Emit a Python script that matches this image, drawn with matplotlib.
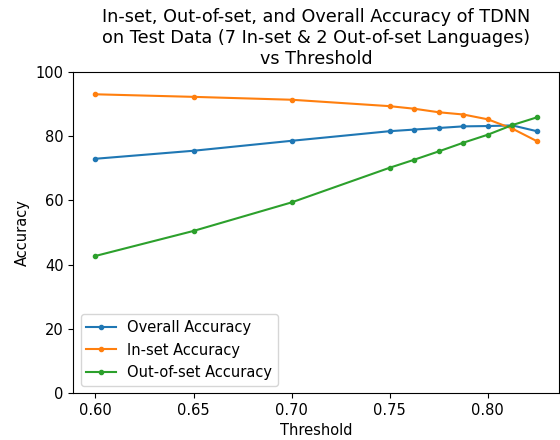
import numpy as np
import matplotlib.pyplot as plt

# ─── Data ─────────────────────────────────────────────────────────────────────
thresholds = [0.60, 0.65, 0.70, 0.75, 0.7625, 0.775, 0.7875, 0.80, 0.8125, 0.825]
overall_acc = [73.0, 75.5, 78.6, 81.6, 82.1, 82.6, 83.1, 83.2, 83.4, 81.6]
inset_acc = [93.1, 92.3, 91.4, 89.4, 88.6, 87.5, 86.8, 85.3, 82.4, 78.5]
outset_acc = [42.7, 50.5, 59.4, 70.2, 72.7, 75.3, 78.0, 80.5, 83.5, 85.9]

plt.rcParams['font.size'] = 10.5

fig = plt.figure(figsize=(5.6, 4.4), dpi=100)
ax = fig.add_axes([0.131, 0.107, 0.867, 0.729])

ax.plot(thresholds, overall_acc, marker='.', label='Overall Accuracy')
ax.plot(thresholds, inset_acc, marker='.', label='In-set Accuracy')
ax.plot(thresholds, outset_acc, marker='.', label='Out-of-set Accuracy')

ax.set_ylim(0, 100)
ax.set_xticks([0.60, 0.65, 0.70, 0.75, 0.80])
ax.set_xlabel('Threshold')
ax.set_ylabel('Accuracy')
ax.set_title('In-set, Out-of-set, and Overall Accuracy of TDNN\n'
             'on Test Data (7 In-set & 2 Out-of-set Languages)\nvs Threshold',
             fontsize=12.7)
ax.legend(loc='lower left')

fig.savefig('out.png', dpi=100)
